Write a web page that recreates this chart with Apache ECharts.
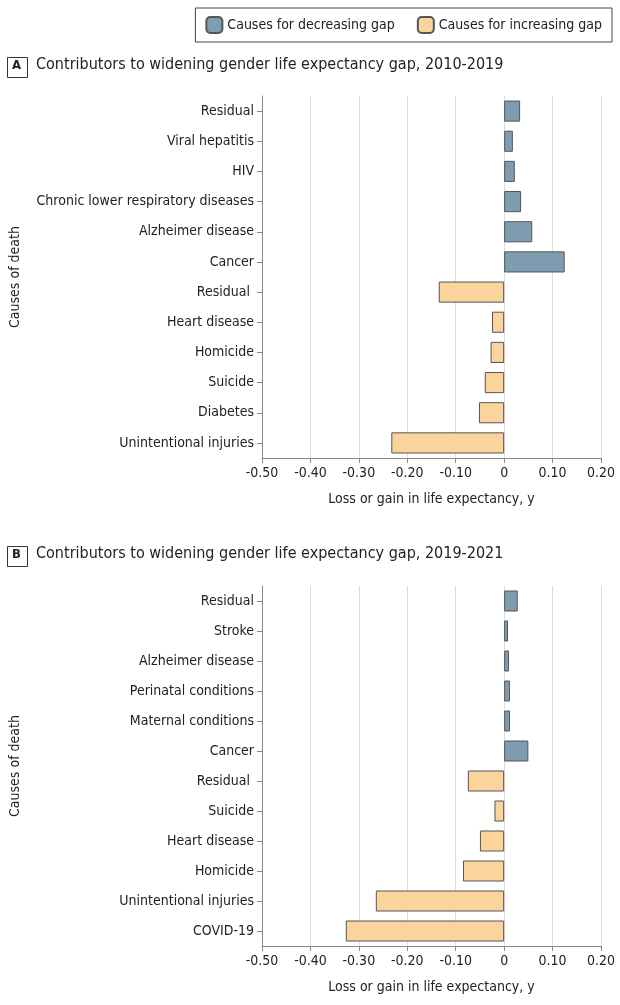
<!DOCTYPE html>
<html lang="en">
  <head>
    <meta charset="utf-8" />
    <script src="https://cdn.jsdelivr.net/npm/echarts@6/dist/echarts.min.js"></script>
    <style>
      html, body { margin: 0; padding: 0; background: #fff; }
      #chart { width: 620px; height: 1005px; }
    </style>
  </head>
  <body>
    <div id="chart"></div>
    <script>
      var causesA = ['Residual', 'Viral hepatitis', 'HIV', 'Chronic lower respiratory diseases', 'Alzheimer disease', 'Cancer',
        'Residual ', 'Heart disease', 'Homicide', 'Suicide', 'Diabetes', 'Unintentional injuries']
      var valuesA = [0.033, 0.018, 0.022, 0.035, 0.058, 0.125, -0.135, -0.025, -0.028, -0.04, -0.052, -0.233]
      var causesB = ['Residual', 'Stroke', 'Alzheimer disease', 'Perinatal conditions', 'Maternal conditions', 'Cancer',
        'Residual ', 'Suicide', 'Heart disease', 'Homicide', 'Unintentional injuries', 'COVID-19']
      var valuesB = [0.028, 0.008, 0.01, 0.012, 0.012, 0.05, -0.075, -0.02, -0.05, -0.085, -0.265, -0.327]
      var xTicks = ['-0.50', '-0.40', '-0.30', '-0.20', '-0.10', '0', '0.10', '0.20']

      var FONT = '"Liberation Sans Narrow", "DejaVu Sans Condensed", "Noto Sans", sans-serif'
      var BLUE = '#7f9db0'
      var ORANGE = '#fbd49b'

      function pos(v) { return v.map(function (d) { return d > 0 ? d : '-' }) }
      function neg(v) { return v.map(function (d) { return d < 0 ? d : '-' }) }

      function xAxis(i) {
        return {
          gridIndex: i, type: 'value', min: -0.5, max: 0.2, interval: 0.1,
          name: 'Loss or gain in life expectancy, y', nameLocation: 'middle', nameGap: 34,
          nameTextStyle: { fontFamily: FONT, fontSize: 14, color: '#222' },
          axisLine: { show: true, lineStyle: { color: '#888' } },
          axisTick: { show: true, length: 5, lineStyle: { color: '#888' } },
          splitLine: { show: true, lineStyle: { color: '#ddd' } },
          axisLabel: { fontFamily: FONT, fontSize: 14, color: '#222', margin: 8,
            formatter: function (v) { return xTicks[Math.round((v + 0.5) * 10)] } }
        }
      }
      function yAxis(i, cats) {
        return {
          gridIndex: i, type: 'category', data: cats, inverse: true,
          name: 'Causes of death', nameLocation: 'middle', nameGap: 240, nameRotate: 90,
          nameTextStyle: { fontFamily: FONT, fontSize: 14, color: '#222' },
          axisLine: { show: true, onZero: false, lineStyle: { color: '#888' } },
          axisTick: { show: true, alignWithLabel: true, length: 5, lineStyle: { color: '#888' } },
          axisLabel: { fontFamily: FONT, fontSize: 14, color: '#222', margin: 8 }
        }
      }
      function bars(i, name, data, color) {
        return {
          type: 'bar', name: name, xAxisIndex: i, yAxisIndex: i, stack: 's' + i, data: data,
          barWidth: '70%', itemStyle: { color: color, borderColor: '#555', borderWidth: 1 }
        }
      }
      function title(y, letter, text) {
        return [
          { type: 'rect', left: 7, top: y - 10, shape: { width: 20, height: 20 },
            style: { fill: '#fff', stroke: '#333', lineWidth: 1 } },
          { type: 'text', left: 12, top: y - 8, style: { text: letter, font: 'bold 13px ' + FONT, fill: '#222' } },
          { type: 'text', left: 36, top: y - 10, style: { text: text, font: '16px ' + FONT, fill: '#222' } }
        ]
      }

      var chart = echarts.init(document.getElementById('chart'))
      chart.setOption({
        animation: false,
        legend: {
          top: 8, right: 8, itemWidth: 16, itemHeight: 16, itemGap: 22,
          padding: [8, 10], borderColor: '#444', borderWidth: 1,
          textStyle: { fontFamily: FONT, fontSize: 14, color: '#222' },
          data: ['Causes for decreasing gap', 'Causes for increasing gap']
        },
        graphic: title(67, 'A', 'Contributors to widening gender life expectancy gap, 2010-2019')
          .concat(title(556, 'B', 'Contributors to widening gender life expectancy gap, 2019-2021')),
        grid: [
          { left: 258, right: 19, top: 96, height: 362 },
          { left: 258, right: 19, top: 586, height: 360 }
        ],
        xAxis: [xAxis(0), xAxis(1)],
        yAxis: [yAxis(0, causesA), yAxis(1, causesB)],
        series: [
          bars(0, 'Causes for decreasing gap', pos(valuesA), BLUE),
          bars(0, 'Causes for increasing gap', neg(valuesA), ORANGE),
          bars(1, 'Causes for decreasing gap', pos(valuesB), BLUE),
          bars(1, 'Causes for increasing gap', neg(valuesB), ORANGE)
        ]
      })
    </script>
  </body>
</html>
